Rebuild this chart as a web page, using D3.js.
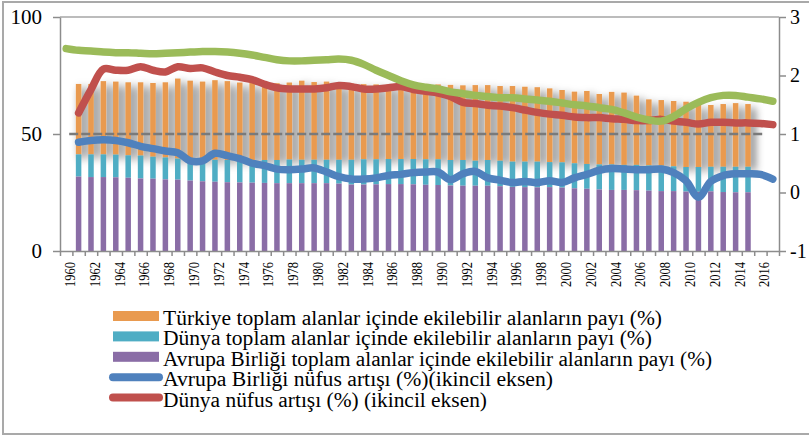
<!DOCTYPE html>
<html>
<head>
<meta charset="utf-8">
<script src="https://cdn.jsdelivr.net/npm/d3@7"></script>
<style>
  body { margin: 0; background: #fff; }
  svg { display: block; }
  svg text { font-family: "Liberation Serif", "Times New Roman", serif; }
</style>
</head>
<body>
<svg id="chart"></svg>
<script>
// kategoriler
const years = d3.range(1960, 2018);
const barYears = d3.range(1961, 2016);

// toplam alanlar içinde ekilebilir alanların payı (%) - 1961..2015
const euArable = [
  31.8, 31.6, 31.6, 31.5, 31.3, 31.0, 30.9, 30.6, 30.5, 30.1,
  29.8, 29.6, 29.4, 29.3, 29.2, 29.1, 29.0, 29.0, 29.0, 29.0,
  29.0, 28.8, 28.4, 28.4, 28.5, 28.6, 28.6, 28.5, 28.3, 28.2,
  28.0, 27.9, 27.9, 27.9, 27.7, 27.4, 27.3, 27.2, 27.3, 27.1,
  26.8, 26.6, 26.3, 26.1, 26.1, 26.0, 25.8, 25.6, 25.6, 25.4,
  25.3, 25.5, 25.2, 25.1, 25.1
];
const worldArable = [
  9.5, 9.7, 9.7, 9.7, 9.6, 9.8, 9.4, 9.4, 9.0, 9.3,
  9.4, 9.4, 9.5, 9.6, 9.7, 9.8, 9.9, 10.1, 10.0, 10.0,
  10.0, 10.2, 10.6, 10.8, 10.7, 10.7, 10.7, 10.8, 10.9, 11.0,
  10.9, 11.0, 10.7, 11.0, 10.9, 10.8, 10.9, 11.0, 10.7, 10.8,
  10.7, 10.6, 10.7, 10.9, 10.7, 10.8, 10.8, 10.9, 10.6, 10.5,
  10.6, 10.5, 10.8, 10.9, 10.9
];
const turkeyArable = [
  30.1, 30.1, 31.3, 31.2, 31.2, 31.3, 31.5, 32.1, 34.2, 33.4,
  33.2, 34.0, 33.7, 33.1, 32.9, 32.1, 32.8, 32.9, 33.8, 33.2,
  33.4, 32.6, 32.5, 32.1, 32.0, 31.8, 31.9, 31.7, 32.2, 32.0,
  32.1, 31.9, 32.3, 32.0, 31.9, 32.3, 32.0, 31.8, 31.5, 30.9,
  30.6, 31.2, 30.1, 31.0, 30.9, 29.6, 28.2, 28.0, 27.9, 27.9,
  26.6, 26.4, 26.8, 27.2, 26.8
];

// nüfus artışı (%) ikincil eksen - 1960..2017 (null = veri yok)
const euGrowth = [
  null,
  0.86, 0.89, 0.90, 0.89, 0.85, 0.79, 0.75, 0.71, 0.68, 0.54,
  0.54, 0.67, 0.63, 0.58, 0.50, 0.46, 0.40, 0.39, 0.40, 0.42,
  0.35, 0.27, 0.23, 0.23, 0.25, 0.29, 0.31, 0.34, 0.35, 0.35,
  0.22, 0.32, 0.36, 0.25, 0.21, 0.17, 0.19, 0.17, 0.20, 0.17,
  0.25, 0.31, 0.38, 0.41, 0.40, 0.39, 0.39, 0.40, 0.34, 0.20,
  -0.08, 0.19, 0.29, 0.32, 0.32, 0.31, 0.23
];
const worldGrowth = [
  null,
  1.36, 1.76, 2.11, 2.09, 2.09, 2.15, 2.09, 2.06, 2.15, 2.12,
  2.13, 2.06, 2.00, 1.97, 1.93, 1.85, 1.79, 1.77, 1.77, 1.77,
  1.79, 1.83, 1.81, 1.77, 1.77, 1.79, 1.81, 1.76, 1.73, 1.70,
  1.64, 1.54, 1.52, 1.49, 1.48, 1.45, 1.41, 1.37, 1.34, 1.32,
  1.29, 1.28, 1.28, 1.26, 1.25, 1.23, 1.23, 1.25, 1.22, 1.20,
  1.17, 1.20, 1.20, 1.19, 1.19, 1.18, 1.16
];
const turkeyGrowth = [
  2.46, 2.43, 2.42, 2.40, 2.39, 2.39, 2.38, 2.37, 2.38, 2.39,
  2.40, 2.41, 2.41, 2.40, 2.38, 2.35, 2.31, 2.27, 2.25, 2.25,
  2.26, 2.27, 2.28, 2.26, 2.19, 2.09, 2.00, 1.91, 1.84, 1.80,
  1.77, 1.72, 1.69, 1.66, 1.64, 1.62, 1.62, 1.60, 1.58, 1.56,
  1.53, 1.50, 1.48, 1.45, 1.42, 1.36, 1.29, 1.24, 1.22, 1.30,
  1.43, 1.54, 1.62, 1.66, 1.66, 1.63, 1.60, 1.56
];
// 50 seviyesindeki kesikli çizgi (1960..2016)
const refYears = d3.range(1960, 2017);
const refLevel = 50;

const leftTicks = [0, 50, 100];
const rightTicks = [-1, 0, 1, 2, 3];

const legendItems = [
  { label: "Türkiye toplam alanlar içinde ekilebilir alanların payı (%)", color: "#E99A4F", type: "bar", len: 499 },
  { label: "Dünya toplam alanlar içinde ekilebilir alanların payı (%)", color: "#4FADC4", type: "bar", len: 489 },
  { label: "Avrupa Birliği toplam alanlar içinde ekilebilir alanların payı (%)", color: "#8A6DA6", type: "bar", len: 549 },
  { label: "Avrupa Birliği nüfus artışı (%)(ikincil eksen)", color: "#4F81BD", type: "line", len: 390 },
  { label: "Dünya nüfus artışı (%) (ikincil eksen)", color: "#C0504D", type: "line", len: 324 }
];

const W = 809, H = 436;
const svg = d3.select("#chart").attr("width", W).attr("height", H);

// dış çerçeve
svg.append("rect")
  .attr("x", 3).attr("y", 2).attr("width", 840).attr("height", 432)
  .attr("fill", "#fff").attr("stroke", "#a9a9a9").attr("stroke-width", 2);

const defs = svg.append("defs");
defs.append("filter").attr("id", "shadow")
  .attr("x", "-10%").attr("y", "-10%").attr("width", "130%").attr("height", "130%")
  .append("feDropShadow")
  .attr("dx", 4).attr("dy", 4).attr("stdDeviation", 4)
  .attr("flood-color", "#000").attr("flood-opacity", 0.65);

const x = d3.scaleBand().domain(years).range([60, 779]);
const cx = d => x(d) + x.bandwidth() / 2;
const yL = d3.scaleLinear().domain([0, 100]).range([251, 17]);
const yR = d3.scaleLinear().domain([-1, 3]).range([251, 17]);
const barW = 5.5;

// 100 çizgisi
svg.append("line")
  .attr("x1", 60).attr("x2", 779).attr("y1", yL(100)).attr("y2", yL(100))
  .attr("stroke", "#a6a6a6").attr("stroke-width", 1.5);

// yığılmış sütunlar
const rows = barYears.map((yr, i) => ({ year: yr, eu: euArable[i], world: worldArable[i], turkey: turkeyArable[i] }));
const stack = d3.stack().keys(["eu", "world", "turkey"])(rows);
const barColors = { eu: "#8A6DA6", world: "#4FADC4", turkey: "#E99A4F" };

const order = [2, 1, 0]; // önce gölgeli Türkiye serisi
order.forEach(k => {
  const s = stack[k];
  const g = svg.append("g").attr("fill", barColors[s.key]);
  if (s.key === "turkey") g.attr("filter", "url(#shadow)");
  g.selectAll("rect")
    .data(s)
    .join("rect")
    .attr("x", d => cx(d.data.year) - barW / 2)
    .attr("width", barW)
    .attr("y", d => yL(d[1]))
    .attr("height", d => yL(d[0]) - yL(d[1]));
});

// 50 kesikli çizgi
svg.append("path")
  .datum(refYears)
  .attr("fill", "none")
  .attr("stroke", "#7a7a7a")
  .attr("stroke-width", 2.5)
  .attr("stroke-dasharray", "9,3")
  .attr("d", d3.line().x(d => cx(d) + 3).y(() => yL(refLevel)));

// çizgiler
const line = d3.line()
  .defined(d => d.v != null)
  .x(d => cx(d.year))
  .y(d => yR(d.v))
  .curve(d3.curveCatmullRom.alpha(0.5));

[[euGrowth, "#4F81BD"], [worldGrowth, "#C0504D"], [turkeyGrowth, "#9BBB59"]].forEach(([vals, col]) => {
  svg.append("path")
    .datum(years.map((yr, i) => ({ year: yr, v: vals[i] })))
    .attr("fill", "none")
    .attr("stroke", col)
    .attr("stroke-width", 7.5)
    .attr("stroke-linecap", "round")
    .attr("stroke-linejoin", "round")
    .attr("d", line);
});

// eksenler
const axisColor = "#8c8c8c";
function styleAxis(g) {
  g.attr("font-family", null);
  g.selectAll(".domain").attr("stroke", axisColor).attr("stroke-width", 1.5);
  g.selectAll(".tick line").attr("stroke", axisColor).attr("stroke-width", 1.5);
  g.selectAll("text").attr("fill", "#000");
}

svg.append("g")
  .attr("transform", "translate(60,0)")
  .call(d3.axisLeft(yL).tickValues(leftTicks).tickSize(7).tickSizeOuter(0).tickPadding(11))
  .call(styleAxis)
  .call(g => g.selectAll("text").attr("font-size", 21));

svg.append("g")
  .attr("transform", "translate(779,0)")
  .call(d3.axisRight(yR).tickValues(rightTicks).tickSize(7).tickSizeOuter(0).tickPadding(4)
    .tickFormat(d => d < 0 ? "-" + (-d) : String(d)))
  .call(styleAxis)
  .call(g => g.selectAll("text").attr("font-size", 20));

// x ekseni: kategori sınırlarında çentikler
const xb = d3.scaleLinear().domain([0, years.length]).range([60, 779]);
svg.append("g")
  .attr("transform", "translate(0,251)")
  .call(d3.axisBottom(xb).tickValues(d3.range(0, years.length + 1)).tickSize(5).tickSizeOuter(0).tickFormat(""))
  .call(styleAxis);

svg.append("g")
  .attr("transform", "translate(0,251)")
  .call(d3.axisBottom(x).tickValues(years.filter(d => d % 2 === 0)).tickSize(0))
  .call(g => g.select(".domain").remove())
  .call(g => g.attr("font-family", null))
  .call(g => g.selectAll("text")
    .attr("fill", "#000")
    .attr("font-size", 14)
    .attr("transform", "rotate(-90)")
    .attr("text-anchor", "end")
    .attr("x", -11)
    .attr("y", 4)
    .attr("dy", "0.35em")
    .attr("textLength", 25)
    .attr("lengthAdjust", "spacingAndGlyphs"));

// lejant
const lg = svg.append("g");
legendItems.forEach((it, i) => {
  const cy = 316 + i * 20.4;
  if (it.type === "bar") {
    lg.append("rect").attr("x", 113).attr("y", cy - 5).attr("width", 46).attr("height", 10).attr("fill", it.color);
  } else {
    lg.append("line").attr("x1", 113).attr("x2", 159).attr("y1", cy).attr("y2", cy)
      .attr("stroke", it.color).attr("stroke-width", 8).attr("stroke-linecap", "round");
  }
  lg.append("text")
    .attr("x", 163).attr("y", cy + 9)
    .attr("font-size", 20)
    .attr("textLength", it.len)
    .attr("lengthAdjust", "spacingAndGlyphs")
    .text(it.label);
});
</script>
</body>
</html>
